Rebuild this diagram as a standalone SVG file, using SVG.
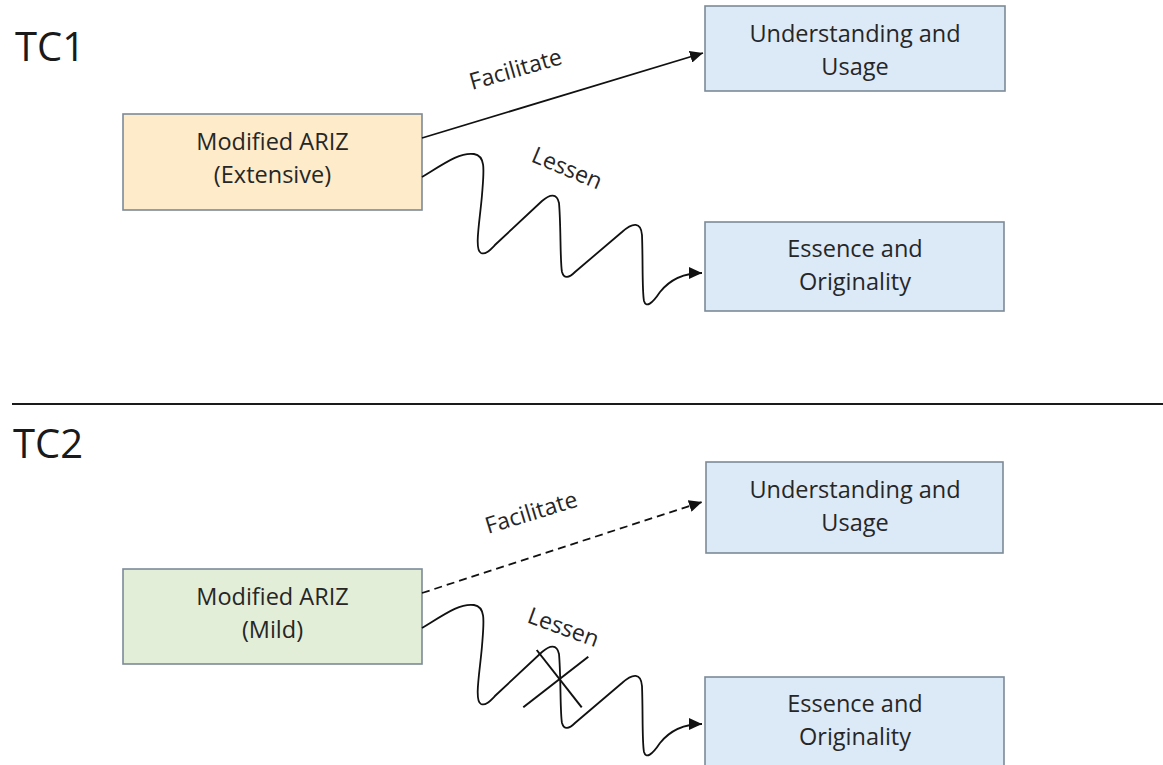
<svg xmlns="http://www.w3.org/2000/svg" width="1163" height="765" viewBox="0 0 1163 765">
  <style>
    .title { font-family: "Open Sans", "Liberation Sans", sans-serif; font-size: 40px; fill: #1a1a1a; }
    .lbl { font-family: "Open Sans", "Liberation Sans", sans-serif; font-size: 23.5px; fill: #262626; text-anchor: middle; }
    .edge { font-family: "Open Sans", "Liberation Sans", sans-serif; font-size: 23px; fill: #262626; }
    .box { stroke: #7c8a98; stroke-width: 1.6; }
    .orange { fill: #fdebc9; }
    .green { fill: #e2eed8; }
    .blue { fill: #dce9f7; }
    .conn { fill: none; stroke: #111; stroke-width: 1.8; }
    .dash { stroke-dasharray: 8 5; }
  </style>
  <defs>
    <marker id="arrow" markerUnits="userSpaceOnUse" markerWidth="14" markerHeight="12" refX="13" refY="6" orient="auto">
      <path d="M0,0 L13,6 L0,12 Z" fill="#111"/>
    </marker>
    <path id="wave" d="M 422,177 C 445,163 460,152 474,154 C 486,156 484,170 482,195 C 480,220 474,250 481,253 C 486,255 490,250 496,244 L 542,201 C 550,194 557,193 559,203 C 561,225 560,262 562,272 C 564,279 569,278 575,272 L 622,232 C 633,222 641,222 642,235 C 643,260 642,292 644,301 C 646,308 652,304 660,292 C 668,282 680,273 702,273"/>
  </defs>

  <rect x="0" y="0" width="1163" height="765" fill="#ffffff"/>

  <text class="title" x="15" y="61">TC1</text>
  <line x1="12" y1="404" x2="1163" y2="404" stroke="#1a1a1a" stroke-width="2"/>
  <text class="title" x="13" y="458">TC2</text>

  <g id="tc1-ariz">
    <rect class="box orange" x="123" y="114" width="299" height="96"/>
    <text class="lbl" x="272.5" y="150">Modified ARIZ</text>
    <text class="lbl" x="272.5" y="183">(Extensive)</text>
  </g>
  <g id="tc1-understanding">
    <rect class="box blue" x="705" y="6" width="300" height="85"/>
    <text class="lbl" x="855" y="42">Understanding and</text>
    <text class="lbl" x="855" y="75">Usage</text>
  </g>
  <g id="tc1-essence">
    <rect class="box blue" x="705" y="222" width="299" height="89"/>
    <text class="lbl" x="855" y="257">Essence and</text>
    <text class="lbl" x="855" y="290">Originality</text>
  </g>

  <g id="tc2-ariz">
    <rect class="box green" x="123" y="569" width="299" height="95"/>
    <text class="lbl" x="272.5" y="605">Modified ARIZ</text>
    <text class="lbl" x="272.5" y="638">(Mild)</text>
  </g>
  <g id="tc2-understanding">
    <rect class="box blue" x="706" y="462" width="297" height="91"/>
    <text class="lbl" x="855" y="498">Understanding and</text>
    <text class="lbl" x="855" y="531">Usage</text>
  </g>
  <g id="tc2-essence">
    <rect class="box blue" x="705" y="677" width="299" height="95"/>
    <text class="lbl" x="855" y="712">Essence and</text>
    <text class="lbl" x="855" y="745">Originality</text>
  </g>

  <g id="connectors">
    <line class="conn" x1="422" y1="138" x2="703" y2="53" marker-end="url(#arrow)"/>
    <use href="#wave" class="conn" marker-end="url(#arrow)"/>
    <line class="conn dash" x1="422" y1="593" x2="702" y2="502" marker-end="url(#arrow)"/>
    <use href="#wave" class="conn" transform="translate(0,451)" marker-end="url(#arrow)"/>
    <line x1="536.7" y1="650" x2="581.7" y2="707.3" stroke="#111" stroke-width="2"/>
    <line x1="523.3" y1="707.3" x2="588.3" y2="656.7" stroke="#111" stroke-width="2"/>
    <text class="edge" x="472" y="90" transform="rotate(-16 472 90)">Facilitate</text>
    <text class="edge" x="530" y="161" font-size="22" transform="rotate(23 530 161)">Lessen</text>
    <text class="edge" x="488" y="534" transform="rotate(-17 488 534)">Facilitate</text>
    <text class="edge" x="526" y="622" font-size="22" transform="rotate(20 526 622)">Lessen</text>
  </g>
</svg>
